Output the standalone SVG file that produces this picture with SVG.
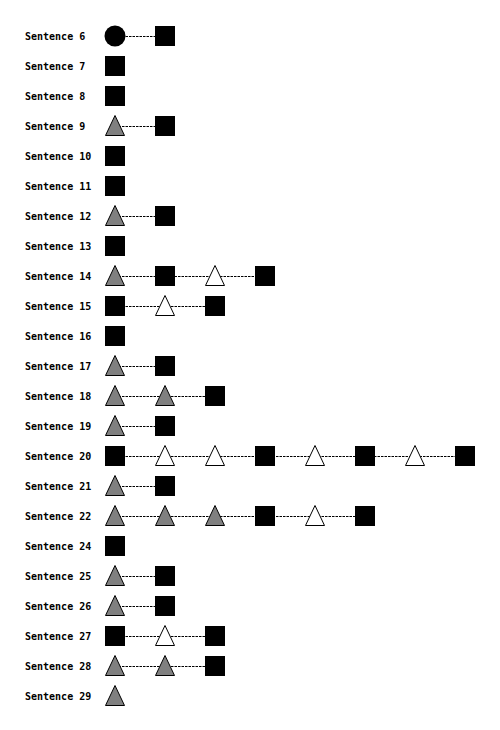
<svg xmlns="http://www.w3.org/2000/svg" xmlns:xlink="http://www.w3.org/1999/xlink" width="500" height="730" viewBox="0 0 500 730">
  <style>
    .lbl { font-family: "DejaVu Sans Mono", "Liberation Mono", monospace; font-size: 10px; font-weight: bold; fill: #000; }
    .link { stroke: #000; stroke-width: 1; stroke-dasharray: 2.5 1; fill: none; }
    .sq { fill: #000; }
    .tri-g { fill: #808080; stroke: #000; stroke-width: 1; }
    .tri-w { fill: #fff; stroke: #000; stroke-width: 1; }
    .dot { fill: #000; }
  </style>
  <defs>
    <rect id="sq" class="sq" x="-10" y="-10" width="20" height="20"/>
    <polygon id="tg" class="tri-g" points="0,-10.5 -9.5,9.5 9.5,9.5"/>
    <polygon id="tw" class="tri-w" points="0,-10.5 -9.5,9.5 9.5,9.5"/>
    <circle id="ci" class="dot" r="10.5"/>
  </defs>
  <rect width="500" height="730" fill="#fff"/>

  <!-- dashed links between consecutive items in each row -->
  <g id="connectors">
    <line class="link" x1="115" y1="36.5" x2="165" y2="36.5"/>
    <line class="link" x1="115" y1="126.5" x2="165" y2="126.5"/>
    <line class="link" x1="115" y1="216.5" x2="165" y2="216.5"/>
    <line class="link" x1="115" y1="276.5" x2="265" y2="276.5"/>
    <line class="link" x1="115" y1="306.5" x2="215" y2="306.5"/>
    <line class="link" x1="115" y1="366.5" x2="165" y2="366.5"/>
    <line class="link" x1="115" y1="396.5" x2="215" y2="396.5"/>
    <line class="link" x1="115" y1="426.5" x2="165" y2="426.5"/>
    <line class="link" x1="115" y1="456.5" x2="465" y2="456.5"/>
    <line class="link" x1="115" y1="486.5" x2="165" y2="486.5"/>
    <line class="link" x1="115" y1="516.5" x2="365" y2="516.5"/>
    <line class="link" x1="115" y1="576.5" x2="165" y2="576.5"/>
    <line class="link" x1="115" y1="606.5" x2="165" y2="606.5"/>
    <line class="link" x1="115" y1="636.5" x2="215" y2="636.5"/>
    <line class="link" x1="115" y1="666.5" x2="215" y2="666.5"/>
  </g>

  <g id="s6"><text class="lbl" x="25" y="40">Sentence 6</text>
    <use href="#ci" x="115" y="36"/><use href="#sq" x="165" y="36"/></g>
  <g id="s7"><text class="lbl" x="25" y="70">Sentence 7</text>
    <use href="#sq" x="115" y="66"/></g>
  <g id="s8"><text class="lbl" x="25" y="100">Sentence 8</text>
    <use href="#sq" x="115" y="96"/></g>
  <g id="s9"><text class="lbl" x="25" y="130">Sentence 9</text>
    <use href="#tg" x="115" y="126"/><use href="#sq" x="165" y="126"/></g>
  <g id="s10"><text class="lbl" x="25" y="160">Sentence 10</text>
    <use href="#sq" x="115" y="156"/></g>
  <g id="s11"><text class="lbl" x="25" y="190">Sentence 11</text>
    <use href="#sq" x="115" y="186"/></g>
  <g id="s12"><text class="lbl" x="25" y="220">Sentence 12</text>
    <use href="#tg" x="115" y="216"/><use href="#sq" x="165" y="216"/></g>
  <g id="s13"><text class="lbl" x="25" y="250">Sentence 13</text>
    <use href="#sq" x="115" y="246"/></g>
  <g id="s14"><text class="lbl" x="25" y="280">Sentence 14</text>
    <use href="#tg" x="115" y="276"/><use href="#sq" x="165" y="276"/><use href="#tw" x="215" y="276"/><use href="#sq" x="265" y="276"/></g>
  <g id="s15"><text class="lbl" x="25" y="310">Sentence 15</text>
    <use href="#sq" x="115" y="306"/><use href="#tw" x="165" y="306"/><use href="#sq" x="215" y="306"/></g>
  <g id="s16"><text class="lbl" x="25" y="340">Sentence 16</text>
    <use href="#sq" x="115" y="336"/></g>
  <g id="s17"><text class="lbl" x="25" y="370">Sentence 17</text>
    <use href="#tg" x="115" y="366"/><use href="#sq" x="165" y="366"/></g>
  <g id="s18"><text class="lbl" x="25" y="400">Sentence 18</text>
    <use href="#tg" x="115" y="396"/><use href="#tg" x="165" y="396"/><use href="#sq" x="215" y="396"/></g>
  <g id="s19"><text class="lbl" x="25" y="430">Sentence 19</text>
    <use href="#tg" x="115" y="426"/><use href="#sq" x="165" y="426"/></g>
  <g id="s20"><text class="lbl" x="25" y="460">Sentence 20</text>
    <use href="#sq" x="115" y="456"/><use href="#tw" x="165" y="456"/><use href="#tw" x="215" y="456"/><use href="#sq" x="265" y="456"/>
    <use href="#tw" x="315" y="456"/><use href="#sq" x="365" y="456"/><use href="#tw" x="415" y="456"/><use href="#sq" x="465" y="456"/></g>
  <g id="s21"><text class="lbl" x="25" y="490">Sentence 21</text>
    <use href="#tg" x="115" y="486"/><use href="#sq" x="165" y="486"/></g>
  <g id="s22"><text class="lbl" x="25" y="520">Sentence 22</text>
    <use href="#tg" x="115" y="516"/><use href="#tg" x="165" y="516"/><use href="#tg" x="215" y="516"/><use href="#sq" x="265" y="516"/>
    <use href="#tw" x="315" y="516"/><use href="#sq" x="365" y="516"/></g>
  <g id="s24"><text class="lbl" x="25" y="550">Sentence 24</text>
    <use href="#sq" x="115" y="546"/></g>
  <g id="s25"><text class="lbl" x="25" y="580">Sentence 25</text>
    <use href="#tg" x="115" y="576"/><use href="#sq" x="165" y="576"/></g>
  <g id="s26"><text class="lbl" x="25" y="610">Sentence 26</text>
    <use href="#tg" x="115" y="606"/><use href="#sq" x="165" y="606"/></g>
  <g id="s27"><text class="lbl" x="25" y="640">Sentence 27</text>
    <use href="#sq" x="115" y="636"/><use href="#tw" x="165" y="636"/><use href="#sq" x="215" y="636"/></g>
  <g id="s28"><text class="lbl" x="25" y="670">Sentence 28</text>
    <use href="#tg" x="115" y="666"/><use href="#tg" x="165" y="666"/><use href="#sq" x="215" y="666"/></g>
  <g id="s29"><text class="lbl" x="25" y="700">Sentence 29</text>
    <use href="#tg" x="115" y="696"/></g>
</svg>
